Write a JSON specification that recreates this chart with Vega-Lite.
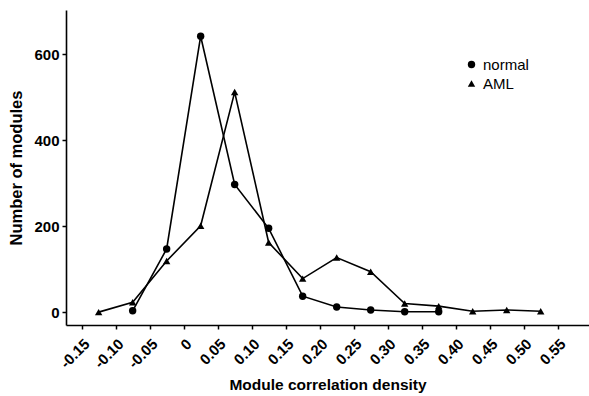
{
  "$schema": "https://vega.github.io/schema/vega-lite/v6.json",
  "autosize": "none",
  "width": 523,
  "height": 315,
  "padding": {"left": 66, "top": 10, "right": 0, "bottom": 71},
  "background": "white",
  "config": {
    "view": {"stroke": null},
    "font": "Liberation Sans",
    "axis": {"domainColor": "black", "domainWidth": 1.6, "tickColor": "black", "tickWidth": 1.5, "tickSize": 4, "grid": false, "labelColor": "black", "titleColor": "black", "labelFont": "Liberation Sans", "titleFont": "Liberation Sans", "labelFontWeight": "bold", "titleFontWeight": "bold", "labelOverlap": false}
  },
  "data": {"values": [
    {"x": -0.075, "n": 3, "group": "normal"},
    {"x": -0.025, "n": 147, "group": "normal"},
    {"x": 0.025, "n": 642, "group": "normal"},
    {"x": 0.075, "n": 297, "group": "normal"},
    {"x": 0.125, "n": 195, "group": "normal"},
    {"x": 0.175, "n": 37, "group": "normal"},
    {"x": 0.225, "n": 12, "group": "normal"},
    {"x": 0.275, "n": 5, "group": "normal"},
    {"x": 0.325, "n": 1, "group": "normal"},
    {"x": 0.375, "n": 1, "group": "normal"},
    {"x": -0.125, "n": 0, "group": "AML"},
    {"x": -0.075, "n": 23, "group": "AML"},
    {"x": -0.025, "n": 119, "group": "AML"},
    {"x": 0.025, "n": 201, "group": "AML"},
    {"x": 0.075, "n": 512, "group": "AML"},
    {"x": 0.125, "n": 162, "group": "AML"},
    {"x": 0.175, "n": 78, "group": "AML"},
    {"x": 0.225, "n": 127, "group": "AML"},
    {"x": 0.275, "n": 94, "group": "AML"},
    {"x": 0.325, "n": 20, "group": "AML"},
    {"x": 0.375, "n": 14, "group": "AML"},
    {"x": 0.425, "n": 2, "group": "AML"},
    {"x": 0.475, "n": 5, "group": "AML"},
    {"x": 0.525, "n": 2, "group": "AML"}
  ]},
  "encoding": {
    "x": {"field": "x", "type": "quantitative",
      "scale": {"domain": [-0.173, 0.596], "nice": false, "zero": false},
      "axis": {"title": "Module correlation density", "titleFontSize": 15.5, "titlePadding": 7,
        "values": [-0.15, -0.1, -0.05, 0, 0.05, 0.1, 0.15, 0.2, 0.25, 0.3, 0.35, 0.4, 0.45, 0.5, 0.55],
        "labelExpr": "datum.value == 0 ? '0' : replace(format(datum.value, '.2f'), '\u2212', '-')",
        "labelAngle": -45, "labelAlign": "right", "labelBaseline": "top", "labelFontSize": 15, "labelPadding": 7}},
    "y": {"field": "n", "type": "quantitative",
      "scale": {"domain": [-30, 703], "nice": false, "zero": false},
      "axis": {"title": "Number of modules", "titleFontSize": 16.5, "titlePadding": 9,
        "values": [0, 200, 400, 600], "labelFontSize": 15, "labelPadding": 3}}
  },
  "layer": [
    {"mark": {"type": "line", "color": "black", "strokeWidth": 1.6},
     "encoding": {"detail": {"field": "group"}}},
    {"mark": {"type": "point", "filled": true, "color": "black", "opacity": 1, "size": 55},
     "encoding": {"shape": {"field": "group", "type": "nominal",
       "scale": {"domain": ["normal", "AML"], "range": ["circle", "triangle-up"]},
       "legend": {"title": null, "orient": "none", "legendX": 398, "legendY": 47, "labelFontSize": 15, "labelFont": "Liberation Sans", "labelColor": "black", "symbolFillColor": "black", "symbolStrokeColor": "black", "symbolSize": 55, "rowPadding": 3, "padding": 0}}}}
  ]
}
